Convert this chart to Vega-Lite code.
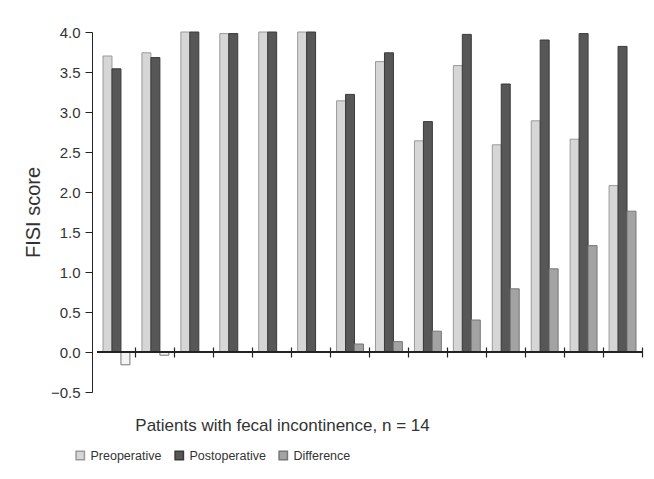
{
  "$schema": "https://vega.github.io/schema/vega-lite/v6.json",
  "width": 545,
  "height": 360,
  "autosize": {"type": "none"},
  "padding": {"left": 97, "top": 32, "right": 12, "bottom": 87},
  "background": "white",
  "config": {"view": {"stroke": null}, "font": "Liberation Sans", "axis": {"grid": false, "labelOverlap": false}},
  "data": {"values": [
    {"patient": 1, "series": "Preoperative", "value": 3.70},
    {"patient": 1, "series": "Postoperative", "value": 3.54},
    {"patient": 1, "series": "Difference", "value": -0.16},
    {"patient": 2, "series": "Preoperative", "value": 3.74},
    {"patient": 2, "series": "Postoperative", "value": 3.68},
    {"patient": 2, "series": "Difference", "value": -0.04},
    {"patient": 3, "series": "Preoperative", "value": 4.0},
    {"patient": 3, "series": "Postoperative", "value": 4.0},
    {"patient": 3, "series": "Difference", "value": 0},
    {"patient": 4, "series": "Preoperative", "value": 3.98},
    {"patient": 4, "series": "Postoperative", "value": 3.98},
    {"patient": 4, "series": "Difference", "value": 0},
    {"patient": 5, "series": "Preoperative", "value": 4.0},
    {"patient": 5, "series": "Postoperative", "value": 4.0},
    {"patient": 5, "series": "Difference", "value": 0},
    {"patient": 6, "series": "Preoperative", "value": 4.0},
    {"patient": 6, "series": "Postoperative", "value": 4.0},
    {"patient": 6, "series": "Difference", "value": 0},
    {"patient": 7, "series": "Preoperative", "value": 3.14},
    {"patient": 7, "series": "Postoperative", "value": 3.22},
    {"patient": 7, "series": "Difference", "value": 0.10},
    {"patient": 8, "series": "Preoperative", "value": 3.63},
    {"patient": 8, "series": "Postoperative", "value": 3.74},
    {"patient": 8, "series": "Difference", "value": 0.13},
    {"patient": 9, "series": "Preoperative", "value": 2.64},
    {"patient": 9, "series": "Postoperative", "value": 2.88},
    {"patient": 9, "series": "Difference", "value": 0.26},
    {"patient": 10, "series": "Preoperative", "value": 3.58},
    {"patient": 10, "series": "Postoperative", "value": 3.97},
    {"patient": 10, "series": "Difference", "value": 0.40},
    {"patient": 11, "series": "Preoperative", "value": 2.59},
    {"patient": 11, "series": "Postoperative", "value": 3.35},
    {"patient": 11, "series": "Difference", "value": 0.79},
    {"patient": 12, "series": "Preoperative", "value": 2.89},
    {"patient": 12, "series": "Postoperative", "value": 3.90},
    {"patient": 12, "series": "Difference", "value": 1.04},
    {"patient": 13, "series": "Preoperative", "value": 2.66},
    {"patient": 13, "series": "Postoperative", "value": 3.98},
    {"patient": 13, "series": "Difference", "value": 1.33},
    {"patient": 14, "series": "Preoperative", "value": 2.08},
    {"patient": 14, "series": "Postoperative", "value": 3.82},
    {"patient": 14, "series": "Difference", "value": 1.76}
  ]},
  "layer": [
    {
      "mark": {"type": "bar", "strokeWidth": 1},
      "encoding": {
        "x": {
          "field": "patient", "type": "ordinal",
          "scale": {"paddingInner": 0, "paddingOuter": 0},
          "axis": {
            "title": "Patients with fecal incontinence, n = 14",
            "labels": false, "domain": false, "offset": -45,
            "tickSize": 10, "tickColor": "#222", "tickWidth": 1.2, "bandPosition": 1,
            "titleFontSize": 17, "titleFontWeight": "normal", "titleColor": "#333",
            "titleX": 185, "titleY": 83, "titleAlign": "center", "titleBaseline": "alphabetic"
          }
        },
        "xOffset": {
          "field": "series", "sort": ["Preoperative", "Postoperative", "Difference"],
          "scale": {"paddingOuter": 0.67, "paddingInner": 0}
        },
        "y": {
          "field": "value", "type": "quantitative",
          "scale": {"domain": [-0.5, 4], "nice": false},
          "axis": {
            "title": "FISI score",
            "values": [-0.5, 0, 0.5, 1, 1.5, 2, 2.5, 3, 3.5, 4],
            "format": ".1f", "offset": 5, "tickSize": 7, "labelOverlap": false,
            "domainColor": "#222", "tickColor": "#222", "labelColor": "#333",
            "labelFontSize": 15, "labelPadding": 5,
            "titleFontSize": 20, "titleFontWeight": "normal", "titleColor": "#333", "titlePadding": 7
          }
        },
        "fill": {
          "condition": {"test": "datum.value < 0", "value": "#f4f4f4"},
          "field": "series", "type": "nominal",
          "sort": ["Preoperative", "Postoperative", "Difference"],
          "scale": {"domain": ["Preoperative", "Postoperative", "Difference"], "range": ["#d6d6d6", "#575757", "#a3a3a3"]},
          "legend": {
            "title": null, "orient": "none", "legendX": -23, "legendY": 417,
            "direction": "horizontal", "symbolType": "square", "symbolSize": 70,
            "labelFontSize": 12.5, "labelColor": "#333", "columnPadding": 10, "labelOffset": 4
          }
        },
        "stroke": {
          "field": "series", "type": "nominal",
          "sort": ["Preoperative", "Postoperative", "Difference"],
          "scale": {"domain": ["Preoperative", "Postoperative", "Difference"], "range": ["#9a9a9a", "#3a3a3a", "#777777"]},
          "legend": {
            "title": null, "orient": "none", "legendX": -23, "legendY": 417,
            "direction": "horizontal", "symbolType": "square", "symbolSize": 70,
            "labelFontSize": 12.5, "labelColor": "#333", "columnPadding": 10, "labelOffset": 4
          }
        }
      }
    },
    {
      "mark": {"type": "rule", "color": "#222", "strokeWidth": 1.2},
      "encoding": {"y": {"datum": 0, "type": "quantitative",
          "axis": {
            "title": "FISI score",
            "values": [-0.5, 0, 0.5, 1, 1.5, 2, 2.5, 3, 3.5, 4],
            "format": ".1f", "offset": 5, "tickSize": 7, "labelOverlap": false,
            "domainColor": "#222", "tickColor": "#222", "labelColor": "#333",
            "labelFontSize": 15, "labelPadding": 5,
            "titleFontSize": 20, "titleFontWeight": "normal", "titleColor": "#333", "titlePadding": 7
          }}}
    }
  ]
}
